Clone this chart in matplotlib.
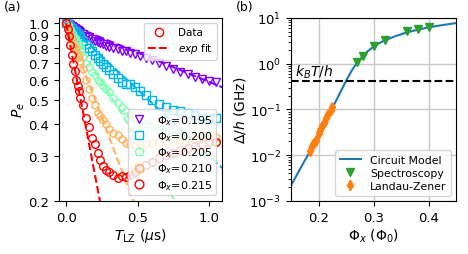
import numpy as np
import matplotlib
matplotlib.use("Agg")
import matplotlib.pyplot as plt
from matplotlib.lines import Line2D

# ---- panel (a): excited-state population vs Landau-Zener time ----
t_lz = [0, 0.01, 0.02, 0.03, 0.04, 0.05, 0.06, 0.07, 0.08, 0.09, 0.10,
        0.12, 0.14, 0.16, 0.18, 0.20, 0.22, 0.24, 0.26, 0.28, 0.30,
        0.33, 0.36, 0.39, 0.42, 0.45, 0.48, 0.52, 0.56, 0.60, 0.65,
        0.70, 0.75, 0.80, 0.85, 0.90, 0.95, 1.00, 1.05]

pe_195 = [1.0, 0.995, 0.99, 0.98, 0.975, 0.965, 0.96, 0.95, 0.945, 0.935, 0.925,
          0.91, 0.895, 0.88, 0.865, 0.855, 0.845, 0.835, 0.825, 0.815, 0.81,
          0.80, 0.79, 0.78, 0.775, 0.765, 0.755, 0.745, 0.73, 0.715, 0.695,
          0.68, 0.66, 0.645, 0.63, 0.615, 0.605, 0.595, 0.585]
pe_200 = [1.0, 0.99, 0.975, 0.965, 0.955, 0.94, 0.93, 0.92, 0.91, 0.895, 0.88,
          0.855, 0.83, 0.80, 0.775, 0.75, 0.73, 0.71, 0.69, 0.67, 0.655,
          0.63, 0.61, 0.59, 0.575, 0.575, 0.56, 0.54, 0.52, 0.50, 0.48,
          0.47, 0.455, 0.45, 0.445, 0.435, 0.425, 0.42, 0.425]
pe_205 = [1.0, 0.98, 0.96, 0.94, 0.915, 0.895, 0.875, 0.855, 0.835, 0.815, 0.795,
          0.74, 0.70, 0.67, 0.645, 0.625, 0.60, 0.585, 0.565, 0.55, 0.535,
          0.51, 0.485, 0.47, 0.45, 0.435, 0.425, 0.41, 0.40, 0.39, 0.38,
          0.372, 0.365, 0.36, 0.355, 0.35, 0.347, 0.344, 0.34]
pe_210 = [1.0, 0.97, 0.935, 0.90, 0.87, 0.84, 0.81, 0.785, 0.76, 0.735, 0.71,
          0.66, 0.60, 0.55, 0.51, 0.475, 0.445, 0.43, 0.415, 0.40, 0.385,
          0.37, 0.362, 0.35, 0.338, 0.335, 0.333, 0.333, 0.335, 0.338, 0.34,
          0.343, 0.345, 0.347, 0.35, 0.352, 0.354, 0.356, 0.358]
pe_215 = [1.0, 0.95, 0.89, 0.82, 0.75, 0.69, 0.65, 0.60, 0.565, 0.54, 0.51,
          0.475, 0.425, 0.39, 0.355, 0.335, 0.31, 0.29, 0.275, 0.265, 0.26,
          0.252, 0.246, 0.25, 0.248, 0.254, 0.26, 0.268, 0.277, 0.285, 0.295,
          0.303, 0.31, 0.318, 0.324, 0.33, 0.335, 0.34, 0.342]

flux_labels = ["0.195", "0.200", "0.205", "0.210", "0.215"]
fit_rates = [0.53, 1.2, 2.11, 3.42, 6.8]   # 1/us, exp fits
markers = ["v", "s", "p", "h", "o"]

# ---- panel (b): tunnel splitting vs flux ----
model_phi = [0.15, 0.17, 0.19, 0.21, 0.23, 0.25, 0.26, 0.27, 0.28, 0.29, 0.30,
             0.31, 0.32, 0.34, 0.36, 0.38, 0.40, 0.42, 0.45]
model_delta = [0.0022, 0.0060, 0.016, 0.045, 0.14, 0.42, 0.70, 1.05, 1.45, 1.9, 2.35,
               2.8, 3.2, 4.0, 4.8, 5.5, 6.2, 6.8, 7.7]

spec_phi = [0.27, 0.28, 0.30, 0.32, 0.36, 0.38, 0.40]
spec_delta = [1.08, 1.5, 2.43, 3.34, 5.2, 5.7, 6.3]

lz_phi = [0.185, 0.188, 0.190, 0.193, 0.196, 0.200, 0.203, 0.207, 0.210, 0.214,
          0.218, 0.222, 0.225]
lz_delta = [0.0125, 0.016, 0.018, 0.019, 0.021, 0.030, 0.036, 0.044, 0.050, 0.066,
            0.080, 0.098, 0.115]
lz_err = [0.0025, 0.002, 0.002, 0.002, 0.002, 0.003, 0.003, 0.004, 0.004, 0.005,
          0.006, 0.007, 0.008]

kbt_h = 0.42

fig = plt.figure(figsize=(4.68, 2.55), dpi=100)
ax1 = fig.add_axes([0.126, 0.208, 0.348, 0.718])
ax2 = fig.add_axes([0.622, 0.208, 0.3526, 0.718])

# panel (a)
series = [pe_195, pe_200, pe_205, pe_210, pe_215]
colors = plt.cm.rainbow(np.linspace(0, 1, len(series)))
t = np.array(t_lz)
t_fit = np.linspace(0, 1.1, 200)
handles = []
for i in range(len(series)):
    h, = ax1.plot(t, series[i], markers[i], mfc="none", mec=colors[i], mew=1.0, ms=5.5,
                  label="$\\Phi_x$=" + flux_labels[i])
    handles.append(h)
    ax1.plot(t_fit, np.exp(-fit_rates[i] * t_fit), "--", color=colors[i], lw=1.5)

ax1.set_yscale("log")
ax1.set_xlim(-0.05, 1.09)
ax1.set_ylim(0.2, 1.05)
yt = [0.2, 0.3, 0.4, 0.5, 0.6, 0.7, 0.8, 0.9, 1.0]
ax1.set_yticks(yt)
ax1.set_yticklabels(["%.1f" % v for v in yt])
ax1.yaxis.set_minor_locator(matplotlib.ticker.NullLocator())
ax1.set_xticks([0.0, 0.5, 1.0])
ax1.tick_params(labelsize=9.5)
ax1.set_xlabel("$T_{\\rm LZ}$ ($\\mu$s)", fontsize=10, labelpad=2)
ax1.set_ylabel("$P_e$", fontsize=10, labelpad=1)

leg_top = [Line2D([], [], marker="o", ls="none", mfc="none", mec="red", ms=6),
           Line2D([], [], ls="--", color="red", lw=1.5)]
l1 = ax1.legend(leg_top, ["Data", "$exp$ fit"], loc="upper right", fontsize=7.5,
                handlelength=2.0, borderpad=0.4, labelspacing=0.4)
ax1.add_artist(l1)
ax1.legend(handles=handles, loc="lower right", fontsize=8, handlelength=1.3,
           handletextpad=0.9, borderpad=0.35, labelspacing=0.22, markerscale=1.15)

# panel (b)
ax2.plot(model_phi, model_delta, "-", color="C0", lw=1.5, label="Circuit Model")
ax2.plot(spec_phi, spec_delta, "v", color="C2", ms=6, label="Spectroscopy")
ax2.errorbar(lz_phi, lz_delta, yerr=lz_err, fmt="d", color="C1", ms=5, elinewidth=1.2,
             label="Landau-Zener")
ax2.axhline(kbt_h, color="black", ls="--", lw=1.5)
ax2.text(0.157, 0.55, "$k_BT/h$", fontsize=10)
ax2.set_yscale("log")
ax2.set_xlim(0.15, 0.45)
ax2.set_ylim(1e-3, 1e1)
ax2.set_xticks([0.2, 0.3, 0.4])
ax2.grid(True, color="#c8c8c8", lw=1)
ax2.tick_params(labelsize=9.5)
ax2.set_xlabel("$\\Phi_x$ ($\\Phi_0$)", fontsize=10, labelpad=2)
ax2.set_ylabel("$\\Delta/h$ (GHz)", fontsize=10, labelpad=1)
ax2.legend(loc="lower right", fontsize=7.8, handlelength=2.0, borderpad=0.4,
           labelspacing=0.3)

fig.text(0.008, 0.995, "(a)", fontsize=9, va="top")
fig.text(0.505, 0.995, "(b)", fontsize=9, va="top")

plt.savefig("out.png", dpi=100)
